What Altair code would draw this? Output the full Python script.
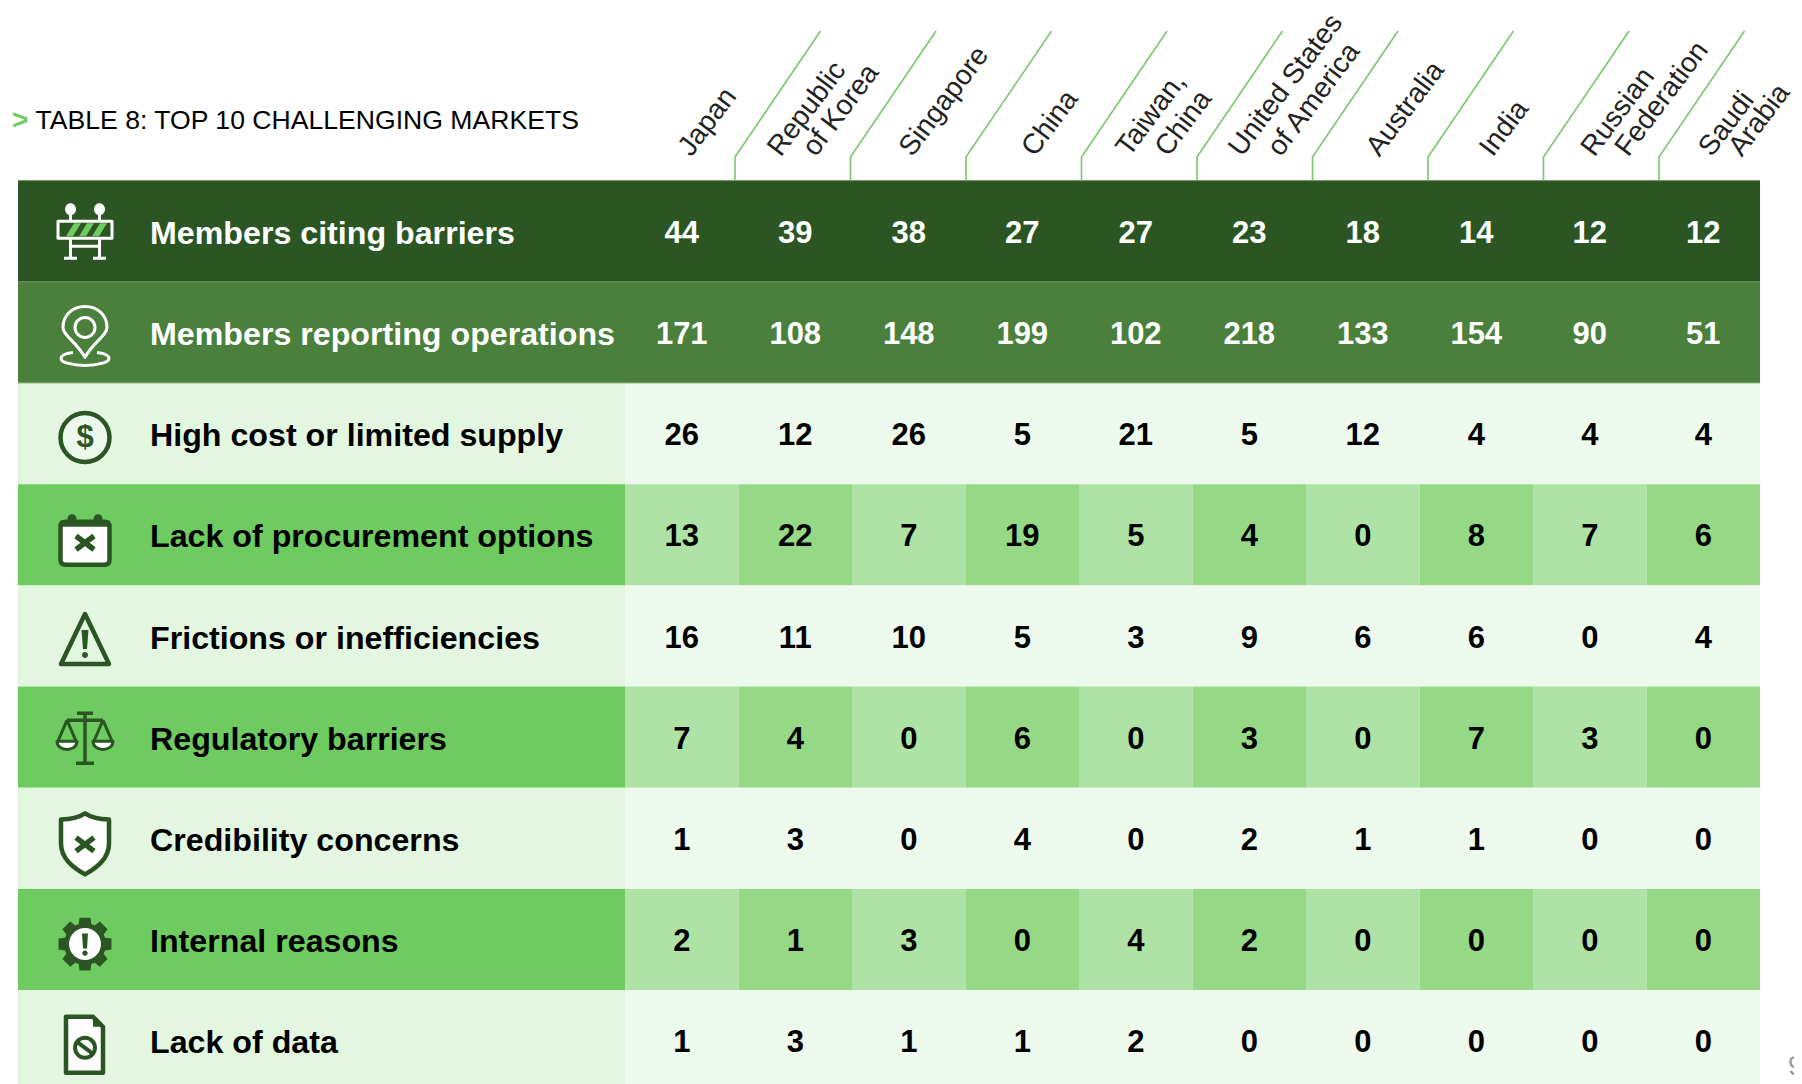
import math
import re
import altair as alt
import pandas as pd

MARKETS = ["Japan", "Republic of Korea", "Singapore", "China", "Taiwan, China",
           "United States of America", "Australia", "India", "Russian Federation", "Saudi Arabia"]
ROWS = ["Members citing barriers", "Members reporting operations", "High cost or limited supply",
        "Lack of procurement options", "Frictions or inefficiencies", "Regulatory barriers",
        "Credibility concerns", "Internal reasons", "Lack of data"]
CITING = [44, 39, 38, 27, 27, 23, 18, 14, 12, 12]
REPORTING = [171, 108, 148, 199, 102, 218, 133, 154, 90, 51]
HIGH_COST = [26, 12, 26, 5, 21, 5, 12, 4, 4, 4]
PROCUREMENT = [13, 22, 7, 19, 5, 4, 0, 8, 7, 6]
FRICTIONS = [16, 11, 10, 5, 3, 9, 6, 6, 0, 4]
REGULATORY = [7, 4, 0, 6, 0, 3, 0, 7, 3, 0]
CREDIBILITY = [1, 3, 0, 4, 0, 2, 1, 1, 0, 0]
INTERNAL = [2, 1, 3, 0, 4, 2, 0, 0, 0, 0]
NO_DATA = [1, 3, 1, 1, 2, 0, 0, 0, 0, 0]
VALUES = [CITING, REPORTING, HIGH_COST, PROCUREMENT, FRICTIONS, REGULATORY, CREDIBILITY, INTERNAL, NO_DATA]
TITLE = "TABLE 8: TOP 10 CHALLENGING MARKETS"

# ---------- layout (page pixels) ----------
W, H = 1802, 1084
CANVAS_R = 1794
TABLE_L, TABLE_T = 18, 180.6
COL0, COL_W = 625, 113.5
ROW_H = 101.2
FONT = "Liberation Sans"
DARK, MID, LIGHT_LABEL, LIGHT_CELL = "#2b5623", "#4a7f3c", "#e3f6e0", "#eef9ee"
GREEN, CELL_A, CELL_B = "#6ecb60", "#aee3a5", "#95d986"
INK = "#2b5623"
LINE = "#7cc670"


def cx(px):
    return (px - COL0) / COL_W


def ry(px):
    return (px - TABLE_T) / ROW_H


X_SCALE = alt.Scale(domain=[cx(8), cx(CANVAS_R)], nice=False, zero=False)
Y_SCALE = alt.Scale(domain=[ry(8), ry(H)], nice=False, zero=False, reverse=True)
X = alt.X("x:Q", scale=X_SCALE, axis=None)
Y = alt.Y("y:Q", scale=Y_SCALE, axis=None)

# ---------- background cells ----------
rects = []
for r in range(len(ROWS)):
    if r == 0:
        label_c = DARK
    elif r == 1:
        label_c = MID
    elif r % 2 == 0:
        label_c = LIGHT_LABEL
    else:
        label_c = GREEN
    if r < 2:
        rects.append(dict(x=cx(TABLE_L), x2=len(MARKETS), y=r, y2=r + 1, c=label_c))
        continue
    rects.append(dict(x=cx(TABLE_L), x2=0, y=r, y2=r + 1, c=label_c))
    if r % 2 == 0:
        rects.append(dict(x=0, x2=len(MARKETS), y=r, y2=r + 1, c=LIGHT_CELL))
    else:
        for c in range(len(MARKETS)):
            rects.append(dict(x=c, x2=c + 1, y=r, y2=r + 1, c=CELL_A if c % 2 == 0 else CELL_B))
rect_layer = alt.Chart(pd.DataFrame(rects)).mark_rect(strokeWidth=0).encode(
    x=X, x2="x2:Q", y=Y, y2="y2:Q", color=alt.Color("c:N", scale=None))

seams = pd.DataFrame([dict(x=cx(TABLE_L), x2=len(MARKETS), y=r, c=k)
                      for r, k in [(0, "#6f9766"), (1, "#5f9353"), (2, "#8fbd85")]])
seam_layer = alt.Chart(seams).mark_rule(strokeWidth=1).encode(
    x=X, x2="x2:Q", y=Y, color=alt.Color("c:N", scale=None))

# ---------- body text ----------
text_rows = []
for r, row in enumerate(VALUES):
    for c, v in enumerate(row):
        text_rows.append(dict(x=c + 0.5, y=r + 0.5, t=str(v), c="#ffffff" if r < 2 else "#000000"))
num_layer = alt.Chart(pd.DataFrame(text_rows)).mark_text(
    font=FONT, fontWeight="bold", fontSize=31, align="center", baseline="middle", dy=2.5).encode(
    x=X, y=Y, text="t:N", color=alt.Color("c:N", scale=None))

label_rows = [dict(x=cx(150), y=r + 0.5, t=t, c="#ffffff" if r < 2 else "#000000") for r, t in enumerate(ROWS)]
label_layer = alt.Chart(pd.DataFrame(label_rows)).mark_text(
    font=FONT, fontWeight="bold", fontSize=32.2, align="left", baseline="middle", dy=2.5).encode(
    x=X, y=Y, text="t:N", color=alt.Color("c:N", scale=None))

title_layer = alt.Chart(pd.DataFrame([dict(x=cx(35.5), y=ry(121), t=TITLE)])).mark_text(
    font=FONT, fontSize=26.6, align="left", baseline="middle", color="#000000").encode(x=X, y=Y, text="t:N")
chevron_layer = alt.Chart(pd.DataFrame([dict(x=cx(12), y=ry(121), t=">")])).mark_text(
    font=FONT, fontSize=28, fontWeight="bold", align="left", baseline="middle", color=GREEN).encode(x=X, y=Y, text="t:N")
page_layer = alt.Chart(pd.DataFrame([dict(x=cx(1788), y=ry(1067), t="9")])).mark_text(
    font=FONT, fontSize=27, align="left", baseline="middle", color="#9a9a9a").encode(x=X, y=Y, text="t:N")

# ---------- column headers ----------
HEADER_LINES = [(0, "Japan", 3), (1, "Republic", -21), (1, "of Korea", 14), (2, "Singapore", -3), (3, "China", 6),
                (4, "Taiwan,", -13), (4, "China", 26), (5, "United States", -14), (5, "of America", 25),
                (6, "Australia", 10), (7, "India", 10), (8, "Russian", -2), (8, "Federation", 32),
                (9, "Saudi", 2), (9, "Arabia", 32)]
header_df = pd.DataFrame([dict(x=c + 0.5 + cx(COL0 + n), y=ry(153), t=t) for c, t, n in HEADER_LINES])
header_layer = alt.Chart(header_df).mark_text(
    font=FONT, fontSize=28.2, angle=307, align="left", baseline="middle", color="#222222").encode(
    x=X, y=Y, text="t:N")

lines = []
for i in range(len(MARKETS) - 1):
    start = 735 + 115.5 * i
    for k, (px, py) in enumerate([(start, 180), (start, 157), (start + 85.5, 31)]):
        lines.append(dict(x=cx(px), y=ry(py), g=i, k=k))
line_layer = alt.Chart(pd.DataFrame(lines)).mark_line(color=LINE, strokeWidth=1.6).encode(
    x=X, y=Y, detail="g:N", order="k:Q")


# ---------- icons ----------
UNIT = 30.0


def unit(path):
    return re.sub(r"-?\d+\.?\d*", lambda m: f"{float(m.group(0)) / UNIT:.4f}", path)


def ell(x, y, rx, ry_=None):
    ry_ = rx if ry_ is None else ry_
    a, b = rx * 0.5523, ry_ * 0.5523
    return (f"M{x - rx} {y} C{x - rx} {y - b} {x - a} {y - ry_} {x} {y - ry_} "
            f"C{x + a} {y - ry_} {x + rx} {y - b} {x + rx} {y} "
            f"C{x + rx} {y + b} {x + a} {y + ry_} {x} {y + ry_} "
            f"C{x - a} {y + ry_} {x - rx} {y + b} {x - rx} {y} Z")


def rrect(x0, y0, x1, y1, r):
    return (f"M{x0 + r} {y0} L{x1 - r} {y0} Q{x1} {y0} {x1} {y0 + r} L{x1} {y1 - r} Q{x1} {y1} {x1 - r} {y1} "
            f"L{x0 + r} {y1} Q{x0} {y1} {x0} {y1 - r} L{x0} {y0 + r} Q{x0} {y0} {x0 + r} {y0} Z")


def cross(x, y, s):
    return f"M{x - s} {y - s * 0.75} L{x + s} {y + s * 0.75} M{x + s} {y - s * 0.75} L{x - s} {y + s * 0.75}"


def gear(x, y, r0, r1, n=8):
    pts = []
    step = 2 * math.pi / n
    for k in range(n):
        a = k * step
        for da, rad in [(-0.3, r0), (-0.2, r1), (0.2, r1), (0.3, r0)]:
            pts.append((x + rad * math.cos(a + da * step * 1.3), y + rad * math.sin(a + da * step * 1.3)))
    return "M" + " L".join(f"{p:.2f} {q:.2f}" for p, q in pts) + " Z"


W_ = "#ffffff"
T_ = "transparent"
ICONS = [
    # barrier
    (0, ell(-14.5, -22, 5.5, 6), W_, W_, 0),
    (0, ell(14.5, -22, 5.5, 6), W_, W_, 0),
    (0, "M-14.5 -17 L-14.5 -10 M14.5 -17 L14.5 -10", T_, W_, 3),
    (0, "M-27 -10 L27 -10 L27 7 L-27 7 Z", T_, W_, 3),
    (0, "M-19 5 L-11 -8 L-4 -8 L-12 5 Z M-6 5 L2 -8 L9 -8 L1 5 Z M7 5 L15 -8 L22 -8 L14 5 Z", GREEN, GREEN, 0),
    (0, "M-14.5 8 L-14.5 27 M14.5 8 L14.5 27 M-14.5 15 L14.5 15 M-21 27 L-8 27 M8 27 L21 27", T_, W_, 3),
    # pin
    (1, "M-12 20 C-20 21 -24 23 -24 26 C-24 30 -12 33 0 33 C12 33 24 30 24 26 C24 23 20 21 12 20", T_, W_, 3),
    (1, "M0 25 C-8 10 -22 3 -22 -5 C-22 -18 -12 -26 0 -26 C12 -26 22 -18 22 -5 C22 3 8 10 0 25 Z", T_, W_, 3),
    (1, ell(0, -5, 10), T_, W_, 3),
    # dollar coin
    (2, ell(0, 4, 24.5), LIGHT_CELL, INK, 4.5),
    # calendar
    (3, ell(-13, -16, 4.5), INK, INK, 0),
    (3, ell(13, -16, 4.5), INK, INK, 0),
    (3, rrect(-24.5, -13, 24.5, 30, 5), W_, INK, 4.5),
    (3, "M-25 -14 L25 -14 L25 -8 L-25 -8 Z", INK, INK, 0),
    (3, cross(0, 8, 9), T_, INK, 5.5),
    # warning
    (4, "M0 -22 L24 28 L-24 28 Z", T_, INK, 4.5),
    (4, "M-3.5 -6 L3.5 -6 L2 13 L-2 13 Z", INK, INK, 0),
    (4, ell(0, 19, 3), INK, INK, 0),
    # scales
    (5, "M-8 -24 L8 -24 M0 -24 L0 26 M-9 26 L9 26 M-18 -17 L18 -17", T_, INK, 3.5),
    (5, "M-18 -17 L-27 4 M-18 -17 L-9 4 M18 -17 L27 4 M18 -17 L9 4", T_, INK, 3),
    (5, "M-28 4 L-8 4 C-8 15 -28 15 -28 4 Z", W_, INK, 3),
    (5, "M8 4 L28 4 C28 15 8 15 8 4 Z", W_, INK, 3),
    # shield
    (6, "M0 -25 C6 -21 15 -19 24 -19 L24 5 C24 20 12 29 0 36 C-12 29 -24 20 -24 5 L-24 -19 C-15 -19 -6 -21 0 -25 Z", W_, INK, 4.5),
    (6, cross(0, 6, 9), T_, INK, 5.5),
    # gear
    (7, gear(0, 4.5, 21, 27), INK, INK, 0),
    (7, ell(0, 4.5, 16), W_, INK, 0),
    (7, "M-3 -6 L3 -6 L2 9 L-2 9 Z", INK, INK, 0),
    (7, ell(0, 13.5, 2.7), INK, INK, 0),
    # document
    (8, "M-19 -24 L8 -24 L18 -14 L18 32 L-19 32 Z", W_, INK, 4.5),
    (8, "M8 -25 L8 -14 L19 -14 Z", INK, INK, 0),
    (8, ell(0, 7, 10), T_, INK, 4),
    (8, "M-8 1 L8 13", T_, INK, 4),
]
icon_df = pd.DataFrame([dict(x=cx(85), y=r + 0.5, p=unit(p), f=f, s=s, w=w, i=i)
                        for i, (r, p, f, s, w) in enumerate(ICONS)])
icon_layer = alt.Chart(icon_df).mark_point(filled=True, opacity=1, size=(2 * UNIT) ** 2, strokeJoin="round").encode(
    x=X, y=Y,
    shape=alt.Shape("p:N", scale=None),
    fill=alt.Fill("f:N", scale=None),
    stroke=alt.Stroke("s:N", scale=None),
    strokeWidth=alt.StrokeWidth("w:Q", scale=None),
    order="i:Q")

glyph_layer = alt.Chart(pd.DataFrame([dict(x=cx(85), y=2.5 + 4 / ROW_H, t="$")])).mark_text(
    font=FONT, fontWeight="bold", fontSize=31, align="center", baseline="middle", color=INK).encode(x=X, y=Y, text="t:N")

chart = alt.layer(
    rect_layer, seam_layer, line_layer, num_layer, label_layer, title_layer, chevron_layer,
    page_layer, header_layer, icon_layer, glyph_layer
).properties(
    width=CANVAS_R - 8, height=H - 8, padding=0, autosize="none", background="#ffffff"
).configure_view(stroke=None)

chart.save("out.html", embed_options={"renderer": "svg", "actions": False})
